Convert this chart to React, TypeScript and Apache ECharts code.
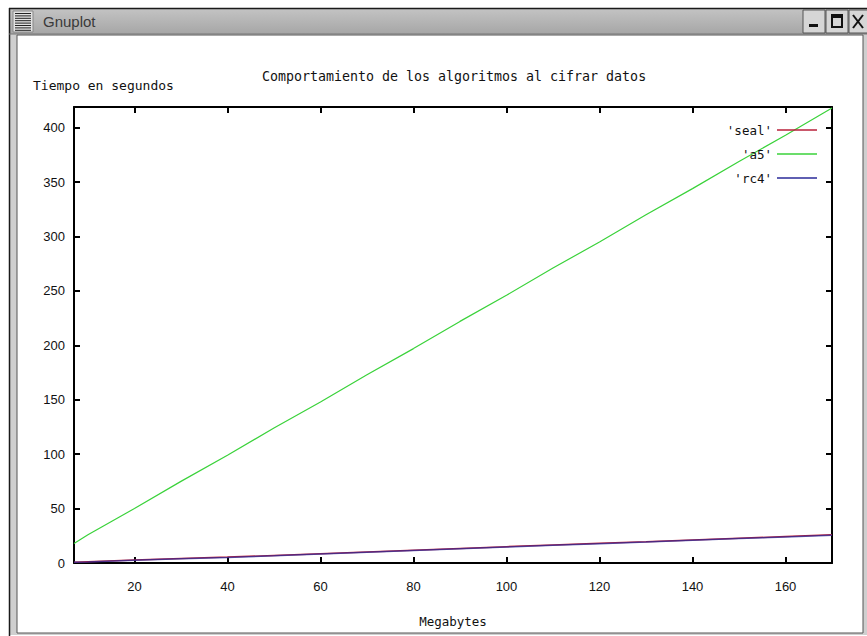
import React, { useEffect, useRef } from "react";
import * as echarts from "echarts";

// ---- data ----
const megabytes = [7, 10, 20, 30, 40, 50, 60, 70, 80, 90, 100, 110, 120, 130, 140, 150, 160, 170];
const sealSeconds = [0.7, 1.2, 2.7, 4.1, 5.4, 7.0, 8.6, 10.2, 11.8, 13.4, 15.0, 16.5, 18.1, 19.6, 21.2, 22.8, 24.3, 25.9];
const a5Seconds = [18, 26, 50, 75, 99, 124, 148, 173, 197, 222, 246, 271, 295, 320, 344, 369, 393, 418];
const rc4Seconds = [0.6, 1.0, 2.5, 3.8, 5.0, 6.6, 8.3, 9.9, 11.5, 13.1, 14.7, 16.2, 17.8, 19.3, 20.9, 22.5, 24.0, 25.6];
const xTickValues = [20, 40, 60, 80, 100, 120, 140, 160];
const yTickValues = [0, 50, 100, 150, 200, 250, 300, 350, 400];
const seriesNames = ["'seal'", "'a5'", "'rc4'"];
const seriesColors = ["#b8203a", "#3ad23a", "#2a2a98"];

const titleText = "Comportamiento de los algoritmos al cifrar datos";
const yAxisName = "Tiempo en segundos";
const xAxisName = "Megabytes";
const windowTitle = "Gnuplot";

const MONO = "'DejaVu Sans Mono', 'Liberation Mono', monospace";
const SANS = "'Liberation Sans', Arial, sans-serif";

export default function App() {
  const ref = useRef<HTMLDivElement>(null);

  useEffect(() => {
    document.body.style.margin = "0";
    if (!ref.current) return;
    const chart = echarts.init(ref.current, null, { renderer: "svg" });

    const iconLines: any[] = [];
    for (let i = 0; i < 8; i++) {
      iconLines.push({
        type: "line",
        shape: { x1: 15, y1: 13.5 + i * 2.4, x2: 31, y2: 13.5 + i * 2.4 },
        style: { stroke: "#222", lineWidth: 1 },
        silent: true,
      });
    }

    const axisLine = { show: true, onZero: false, lineStyle: { color: "#000", width: 2 } };
    const tickStyle = { show: true, inside: true, length: 6, lineStyle: { color: "#000", width: 2 } };

    const mk = (vals: number[]) => megabytes.map((x, i) => [x, vals[i]]);

    chart.setOption({
      animation: false,
      backgroundColor: "#ffffff",
      title: {
        text: titleText,
        left: 449,
        top: 65,
        textAlign: "center",
        textStyle: { fontFamily: MONO, fontSize: 13.3, fontWeight: "normal", color: "#111" },
      },
      legend: {
        data: seriesNames,
        orient: "vertical",
        align: "right",
        right: 45,
        top: 118,
        itemWidth: 40,
        itemHeight: 1.5,
        itemGap: 10,
        icon: "rect",
        textStyle: { fontFamily: MONO, fontSize: 12.5, color: "#111", lineHeight: 14 },
      },
      grid: { left: 74, right: 35, top: 107, bottom: 73, containLabel: false },
      xAxis: [
        {
          type: "value",
          position: "bottom",
          min: 7,
          max: 170,
          name: xAxisName,
          nameLocation: "middle",
          nameGap: 52,
          nameTextStyle: { fontFamily: MONO, fontSize: 12.5, color: "#111", verticalAlign: "top" },
          axisLine,
          axisTick: { ...tickStyle, customValues: xTickValues },
          axisLabel: {
            customValues: xTickValues,
            margin: 17,
            fontFamily: SANS,
            fontSize: 13,
            color: "#111",
          },
          splitLine: { show: false },
        },
        {
          type: "value",
          position: "top",
          min: 7,
          max: 170,
          axisLine,
          axisTick: { ...tickStyle, customValues: xTickValues },
          axisLabel: { show: false },
          splitLine: { show: false },
        },
      ],
      yAxis: [
        {
          type: "value",
          position: "left",
          min: 0,
          max: 419,
          axisLine,
          axisTick: { ...tickStyle, customValues: yTickValues },
          axisLabel: {
            customValues: yTickValues,
            margin: 9,
            fontFamily: SANS,
            fontSize: 13,
            color: "#111",
          },
          splitLine: { show: false },
        },
        {
          type: "value",
          position: "right",
          min: 0,
          max: 419,
          axisLine,
          axisTick: { ...tickStyle, customValues: yTickValues },
          axisLabel: { show: false },
          splitLine: { show: false },
        },
      ],
      series: [
        {
          name: seriesNames[0],
          type: "line",
          data: mk(sealSeconds),
          showSymbol: false,
          symbol: "none",
          color: seriesColors[0],
          lineStyle: { width: 1.5, color: seriesColors[0] },
          z: 3,
        },
        {
          name: seriesNames[1],
          type: "line",
          data: mk(a5Seconds),
          showSymbol: false,
          symbol: "none",
          color: seriesColors[1],
          lineStyle: { width: 1.2, color: seriesColors[1] },
          z: 3,
        },
        {
          name: seriesNames[2],
          type: "line",
          data: mk(rc4Seconds),
          showSymbol: false,
          symbol: "none",
          color: seriesColors[2],
          lineStyle: { width: 1.5, color: seriesColors[2], opacity: 0.75 },
          z: 4,
        },
      ],
      graphic: [
        // window frame background
        { type: "rect", z: -10, shape: { x: 9, y: 8, width: 858, height: 627 }, style: { fill: "#cfcfcf" }, silent: true },
        // content area
        { type: "rect", z: -9, shape: { x: 17, y: 35, width: 846, height: 598 }, style: { fill: "#ffffff", stroke: "#555", lineWidth: 1 }, silent: true },
        // title bar
        {
          type: "rect",
          z: -8,
          shape: { x: 9, y: 8, width: 858, height: 26 },
          style: {
            fill: new echarts.graphic.LinearGradient(0, 0, 0, 1, [
              { offset: 0, color: "#c4c4c4" },
              { offset: 1, color: "#a6a6a6" },
            ]),
          },
          silent: true,
        },
        { type: "line", z: -7, shape: { x1: 9, y1: 8.5, x2: 867, y2: 8.5 }, style: { stroke: "#1a1a1a", lineWidth: 1.5 }, silent: true },
        { type: "line", z: -7, shape: { x1: 9.5, y1: 8, x2: 9.5, y2: 636 }, style: { stroke: "#1a1a1a", lineWidth: 1.5 }, silent: true },
        { type: "line", z: -7, shape: { x1: 9, y1: 34, x2: 867, y2: 34 }, style: { stroke: "#777", lineWidth: 1 }, silent: true },
        // window icon
        { type: "rect", z: -6, shape: { x: 13, y: 11, width: 20, height: 21 }, style: { fill: "#e2e2e2", stroke: "#888", lineWidth: 1 }, silent: true },
        ...iconLines.map((l) => ({ ...l, z: -5 })),
        {
          type: "text",
          z: -5,
          x: 43,
          y: 21,
          style: { text: windowTitle, fontFamily: SANS, fontSize: 15, fill: "#3a3a3a", verticalAlign: "middle" },
          silent: true,
        },
        // buttons
        { type: "rect", z: -6, shape: { x: 803, y: 10, width: 22, height: 23 }, style: { fill: "#d6d6d6", stroke: "#555", lineWidth: 1 }, silent: true },
        { type: "rect", z: -6, shape: { x: 826, y: 10, width: 22, height: 23 }, style: { fill: "#d6d6d6", stroke: "#555", lineWidth: 1 }, silent: true },
        { type: "rect", z: -6, shape: { x: 849, y: 10, width: 22, height: 23 }, style: { fill: "#d6d6d6", stroke: "#555", lineWidth: 1 }, silent: true },
        { type: "rect", z: -5, shape: { x: 809, y: 24, width: 9, height: 3 }, style: { fill: "#111" }, silent: true },
        { type: "rect", z: -5, shape: { x: 832, y: 15, width: 10, height: 12 }, style: { fill: "none", stroke: "#111", lineWidth: 2 }, silent: true },
        { type: "rect", z: -5, shape: { x: 832, y: 15, width: 10, height: 3 }, style: { fill: "#111" }, silent: true },
        { type: "line", z: -5, shape: { x1: 853, y1: 15, x2: 863, y2: 28 }, style: { stroke: "#111", lineWidth: 2 }, silent: true },
        { type: "line", z: -5, shape: { x1: 863, y1: 15, x2: 853, y2: 28 }, style: { stroke: "#111", lineWidth: 2 }, silent: true },
        // y axis title (gnuplot places it top-left)
        {
          type: "text",
          z: 5,
          x: 33,
          y: 85,
          style: { text: yAxisName, fontFamily: MONO, fontSize: 13, fill: "#111", verticalAlign: "middle" },
          silent: true,
        },
      ],
    });

    return () => chart.dispose();
  }, []);

  return <div ref={ref} style={{ width: 867, height: 636 }} />;
}
